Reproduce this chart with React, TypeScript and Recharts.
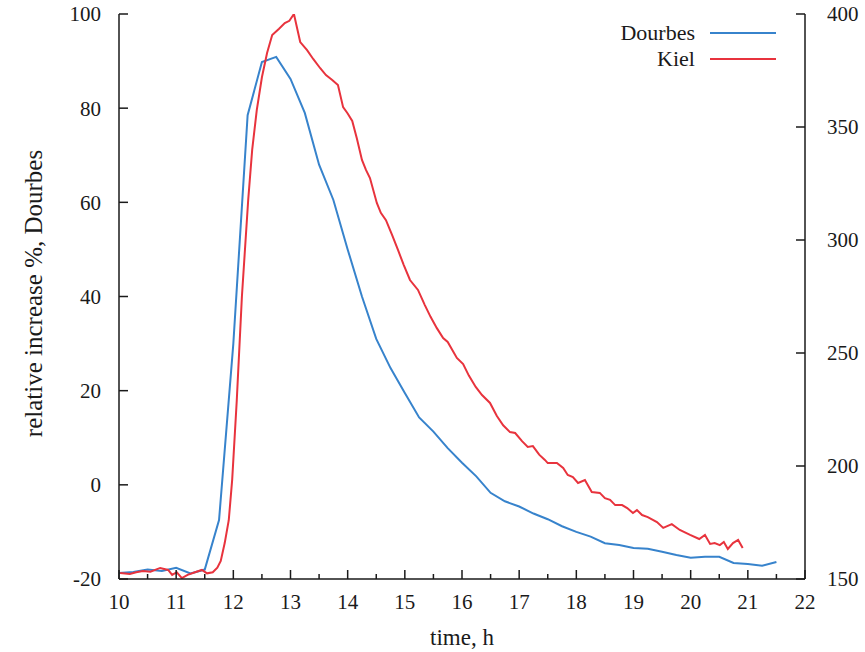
import { LineChart, Line, XAxis, YAxis, Legend, Label } from "recharts";

// Dourbes, relative increase % (left axis), every quarter hour
const dourbesTime = [
  10, 10.25, 10.5, 10.75, 11, 11.25, 11.5, 11.75, 12, 12.25, 12.5, 12.75, 13,
  13.25, 13.5, 13.75, 14, 14.25, 14.5, 14.75, 15, 15.25, 15.5, 15.75, 16,
  16.25, 16.5, 16.75, 17, 17.25, 17.5, 17.75, 18, 18.25, 18.5, 18.75, 19,
  19.25, 19.5, 19.75, 20, 20.25, 20.5, 20.75, 21, 21.25, 21.5,
];
const dourbesValue = [
  -18.7, -18.5, -18.0, -18.3, -17.6, -18.8, -18.0, -7.5, 30, 78.5, 89.8, 90.9,
  86.2, 79, 68, 60.5, 50, 40, 31, 24.8, 19.5, 14.3, 11.3, 7.8, 4.7, 1.8, -1.7,
  -3.5, -4.6, -6.1, -7.3, -8.8, -10, -11, -12.4, -12.8, -13.4, -13.6, -14.2,
  -14.9, -15.5, -15.3, -15.3, -16.6, -16.8, -17.2, -16.4,
];

// Kiel (right axis)
const kielTime = [
  10.02, 10.19, 10.3, 10.42, 10.55, 10.72, 10.86, 10.93, 11.01, 11.1, 11.2,
  11.33, 11.45, 11.54, 11.64, 11.72, 11.78, 11.85, 11.92, 11.98, 12.06, 12.15,
  12.26, 12.33, 12.41, 12.5, 12.59, 12.68, 12.8, 12.9, 12.98, 13.06, 13.17,
  13.29, 13.4, 13.52, 13.62, 13.73, 13.83, 13.92, 14.0, 14.08, 14.16, 14.25,
  14.32, 14.39, 14.51, 14.58, 14.67, 14.78, 14.88, 14.98, 15.09, 15.23, 15.35,
  15.45, 15.56, 15.67, 15.75, 15.91, 16.02, 16.12, 16.24, 16.35, 16.49, 16.61,
  16.72, 16.84, 16.93, 17.05, 17.15, 17.24, 17.35, 17.45, 17.5, 17.66, 17.77,
  17.85, 17.94, 18.03, 18.15, 18.27, 18.41, 18.5, 18.59, 18.68, 18.8, 18.89,
  18.99, 19.06, 19.15, 19.25, 19.41, 19.52, 19.67, 19.81, 19.99, 20.15, 20.25,
  20.34, 20.42, 20.51, 20.58, 20.65, 20.74, 20.83, 20.91,
];
const kielValue = [
  152.7, 152.2, 153.0, 153.5, 153.2, 154.9, 154.0, 151.8, 153.0, 150.4, 151.8,
  153.0, 154.0, 152.5, 153.0, 155.0, 158.0, 166.0, 176, 194, 229, 275, 317.7,
  340, 357.5, 372, 382.7, 390.7, 393.5, 396, 397, 400, 387.6, 384, 380, 376,
  373, 370.8, 368.6, 358.8, 356, 352.7, 345, 335.4, 331, 327.4, 316.4, 312,
  308.8, 302, 295.6, 289, 282.3, 277.9, 271.2, 266, 261, 256.6, 254.9, 247.8,
  245.1, 240, 235, 231.4, 227.9, 222.1, 218, 215, 214.6, 211, 208.4, 208.8,
  205, 202.7, 201.3, 201.3, 199.1, 196, 195.1, 192.5, 193.8, 188.5, 188.1,
  185.8, 185, 182.7, 182.7, 181.4, 179.2, 180.5, 178.3, 177.4, 175.2, 172.6,
  174.3, 171.7, 169.5, 167.7, 169.5, 165.5, 165.9, 165, 166.4, 163.3, 165.9,
  167.3, 163.7,
];

const timeTicks = [
  10, 10.5, 11, 11.5, 12, 12.5, 13, 13.5, 14, 14.5, 15, 15.5, 16, 16.5, 17,
  17.5, 18, 18.5, 19, 19.5, 20, 20.5, 21, 21.5, 22,
];
const leftTicks = [-20, 0, 20, 40, 60, 80, 100];
const rightTicks = [150, 200, 250, 300, 350, 400];

const seriesNames = ["Dourbes", "Kiel"];
const seriesColors = ["#3783cc", "#e8333d"];

const dourbesData = dourbesTime.map((t, i) => ({ t, v: dourbesValue[i] }));
const kielData = kielTime.map((t, i) => ({ t, v: kielValue[i] }));

const FONT = "'Liberation Serif', 'Times New Roman', serif";
const INK = "#1a1a1a";

const BottomTick = (props: any) => {
  const { x, y, payload } = props;
  const major = Number.isInteger(payload.value);
  return (
    <g>
      <line x1={x} x2={x} y1={y} y2={y - (major ? 9 : 5)} stroke={INK} strokeWidth={1.5} />
      {major && (
        <text x={x} y={y + 23} dy="0.35em" textAnchor="middle" fontSize={21} fontFamily={FONT} fill={INK}>
          {payload.value}
        </text>
      )}
    </g>
  );
};

const TopTick = (props: any) => {
  const { x, y, payload } = props;
  const major = Number.isInteger(payload.value);
  return <line x1={x} x2={x} y1={y} y2={y + (major ? 9 : 5)} stroke={INK} strokeWidth={1.5} />;
};

const LeftTick = (props: any) => {
  const { x, y, payload } = props;
  return (
    <g>
      <line x1={x} x2={x + 9} y1={y} y2={y} stroke={INK} strokeWidth={1.5} />
      <text x={x - 18} y={y} dy="0.35em" textAnchor="end" fontSize={21} fontFamily={FONT} fill={INK}>
        {payload.value}
      </text>
    </g>
  );
};

const RightTick = (props: any) => {
  const { x, y, payload } = props;
  return (
    <g>
      <line x1={x} x2={x - 9} y1={y} y2={y} stroke={INK} strokeWidth={1.5} />
      <text x={x + 22} y={y} dy="0.35em" textAnchor="start" fontSize={21} fontFamily={FONT} fill={INK}>
        {payload.value}
      </text>
    </g>
  );
};

const MirrorTick = (props: any) => {
  const { x, y } = props;
  return <line x1={x} x2={x - 9} y1={y} y2={y} stroke={INK} strokeWidth={1.5} />;
};

const renderLegend = () => (
  <div style={{ fontFamily: FONT, fontSize: 22, color: INK }}>
    {seriesNames.map((name, i) => (
      <div
        key={name}
        style={{ display: "flex", justifyContent: "flex-end", alignItems: "center", height: 26 }}
      >
        <span style={{ lineHeight: "26px" }}>{name}</span>
        <span
          style={{
            display: "inline-block",
            width: 66,
            height: 2,
            background: seriesColors[i],
            marginLeft: 15,
            marginRight: 4,
          }}
        />
      </div>
    ))}
  </div>
);

export default function App() {
  return (
    <div style={{ position: "absolute", left: 0, top: 0, background: "#fff" }}>
      <LineChart width={865} height={652} margin={{ top: 14, right: 0, bottom: 0, left: 0 }}>
        <XAxis
          xAxisId="b"
          type="number"
          dataKey="t"
          domain={[10, 22]}
          ticks={timeTicks}
          interval={0}
          height={73}
          tickSize={0}
          tickMargin={0}
          tickLine={false}
          tick={<BottomTick />}
          axisLine={{ stroke: INK, strokeWidth: 1.5 }}
          allowDataOverflow
        >
          <Label value="time, h" position="center" dy={21} fontSize={23} fontFamily={FONT} fill={INK} />
        </XAxis>
        <XAxis
          xAxisId="top"
          orientation="top"
          type="number"
          dataKey="t"
          domain={[10, 22]}
          ticks={timeTicks}
          interval={0}
          height={0}
          tickSize={0}
          tickMargin={0}
          tickLine={false}
          tick={<TopTick />}
          axisLine={{ stroke: INK, strokeWidth: 1.5 }}
          allowDataOverflow
        />
        <YAxis
          yAxisId="l"
          type="number"
          domain={[-20, 100]}
          ticks={leftTicks}
          interval={0}
          width={119}
          tickSize={0}
          tickMargin={0}
          tickLine={false}
          tick={<LeftTick />}
          axisLine={{ stroke: INK, strokeWidth: 1.5 }}
          allowDataOverflow
        >
          <Label
            value="relative increase %, Dourbes"
            angle={-90}
            position="center"
            dx={-26}
            dy={-3}
            fontSize={25}
            fontFamily={FONT}
            fill={INK}
          />
        </YAxis>
        <YAxis
          yAxisId="lm"
          orientation="right"
          type="number"
          domain={[-20, 100]}
          ticks={leftTicks}
          interval={0}
          width={0}
          tickSize={0}
          tickMargin={0}
          tickLine={false}
          tick={<MirrorTick />}
          axisLine={false}
          allowDataOverflow
        />
        <YAxis
          yAxisId="r"
          orientation="right"
          type="number"
          domain={[150, 400]}
          ticks={rightTicks}
          interval={0}
          width={60}
          tickSize={0}
          tickMargin={0}
          tickLine={false}
          tick={<RightTick />}
          axisLine={{ stroke: INK, strokeWidth: 1.5 }}
          allowDataOverflow
        />
        <Legend
          layout="vertical"
          align="center"
          verticalAlign="middle"
          content={renderLegend}
          wrapperStyle={{ top: 20, left: 560, width: 220, height: 52 }}
        />
        <Line
          xAxisId="b"
          yAxisId="l"
          data={dourbesData}
          dataKey="v"
          name={seriesNames[0]}
          type="linear"
          stroke={seriesColors[0]}
          strokeWidth={2}
          dot={false}
          isAnimationActive={false}
        />
        <Line
          xAxisId="b"
          yAxisId="r"
          data={kielData}
          dataKey="v"
          name={seriesNames[1]}
          type="linear"
          stroke={seriesColors[1]}
          strokeWidth={2}
          dot={false}
          isAnimationActive={false}
        />
      </LineChart>
    </div>
  );
}
